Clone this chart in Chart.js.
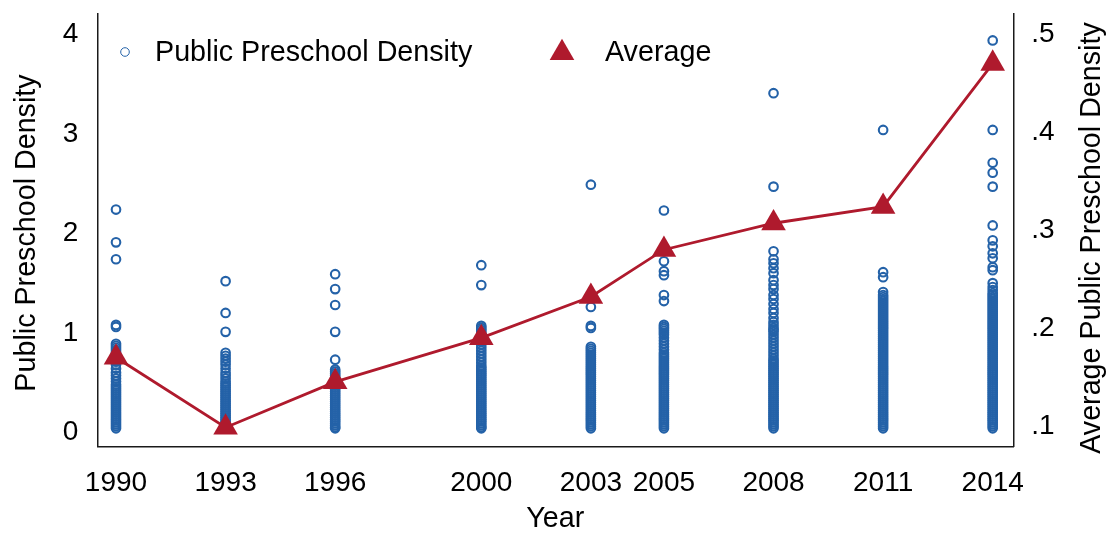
<!DOCTYPE html>
<html>
<head>
<meta charset="utf-8">
<title>Public Preschool Density</title>
<script src="https://cdn.jsdelivr.net/npm/chart.js@4.4.1/dist/chart.umd.min.js"></script>
<style>
  html, body { margin: 0; padding: 0; background: #ffffff; }
  canvas { display: block; }
</style>
</head>
<body>
<canvas id="chart" width="1107" height="534"></canvas>
<script>
// Survey years shown on the x axis
const years = [1990, 1993, 1996, 2000, 2003, 2005, 2008, 2011, 2014];

// Public preschool density of each unit, by year
const density1990 = [2.24, 1.91, 1.74, 1.08, 1.06, 0.89, 0.87, 0.85, 0.83, 0.81, 0.79, 0.77, 0.74, 0.71, 0.68, 0.64, 0.60, 0.57, 0.54, 0.51, 0.48, 0.46, 0.44, 0.42, 0.40, 0.38, 0.36, 0.34, 0.32, 0.30, 0.28, 0.26, 0.24, 0.22, 0.20, 0.18, 0.16, 0.14, 0.12, 0.10, 0.08, 0.06, 0.04];
const density1993 = [1.52, 1.20, 1.01, 0.80, 0.77, 0.74, 0.71, 0.68, 0.64, 0.60, 0.57, 0.54, 0.51, 0.49, 0.47, 0.45, 0.43, 0.41, 0.39, 0.37, 0.35, 0.33, 0.31, 0.29, 0.27, 0.25, 0.23, 0.21, 0.19, 0.17, 0.15, 0.13, 0.11, 0.09, 0.07, 0.05, 0.04];
const density1996 = [1.59, 1.44, 1.28, 1.01, 0.73, 0.63, 0.61, 0.59, 0.57, 0.55, 0.53, 0.51, 0.49, 0.47, 0.45, 0.43, 0.41, 0.39, 0.37, 0.35, 0.33, 0.31, 0.29, 0.27, 0.25, 0.23, 0.21, 0.19, 0.17, 0.15, 0.13, 0.11, 0.09, 0.07, 0.05, 0.04];
const density2000 = [1.68, 1.48, 1.07, 1.05, 1.03, 1.01, 0.99, 0.97, 0.94, 0.91, 0.88, 0.85, 0.82, 0.79, 0.76, 0.73, 0.70, 0.67, 0.65, 0.63, 0.61, 0.59, 0.57, 0.55, 0.53, 0.51, 0.49, 0.47, 0.45, 0.43, 0.41, 0.39, 0.37, 0.35, 0.33, 0.31, 0.29, 0.27, 0.25, 0.23, 0.21, 0.19, 0.17, 0.15, 0.13, 0.11, 0.09, 0.07, 0.05, 0.04];
const density2003 = [2.49, 1.26, 1.07, 1.05, 0.86, 0.84, 0.82, 0.80, 0.78, 0.76, 0.74, 0.72, 0.70, 0.68, 0.66, 0.64, 0.62, 0.60, 0.58, 0.56, 0.54, 0.52, 0.50, 0.48, 0.46, 0.44, 0.42, 0.40, 0.38, 0.36, 0.34, 0.32, 0.30, 0.28, 0.26, 0.24, 0.22, 0.20, 0.18, 0.16, 0.14, 0.12, 0.10, 0.08, 0.06, 0.04];
const density2005 = [2.23, 1.72, 1.62, 1.58, 1.38, 1.32, 1.08, 1.06, 1.04, 1.02, 1.00, 0.98, 0.95, 0.92, 0.89, 0.86, 0.83, 0.80, 0.78, 0.76, 0.74, 0.72, 0.70, 0.68, 0.66, 0.64, 0.62, 0.60, 0.58, 0.56, 0.54, 0.52, 0.50, 0.48, 0.46, 0.44, 0.42, 0.40, 0.38, 0.36, 0.34, 0.32, 0.30, 0.28, 0.26, 0.24, 0.22, 0.20, 0.18, 0.16, 0.14, 0.12, 0.10, 0.08, 0.06, 0.04];
const density2008 = [3.41, 2.47, 1.82, 1.74, 1.70, 1.65, 1.60, 1.53, 1.48, 1.44, 1.38, 1.34, 1.29, 1.24, 1.20, 1.15, 1.11, 1.08, 1.05, 1.03, 1.01, 0.98, 0.95, 0.92, 0.89, 0.86, 0.83, 0.80, 0.77, 0.74, 0.72, 0.70, 0.68, 0.66, 0.64, 0.62, 0.60, 0.58, 0.56, 0.54, 0.52, 0.50, 0.48, 0.46, 0.44, 0.42, 0.40, 0.38, 0.36, 0.34, 0.32, 0.30, 0.28, 0.26, 0.24, 0.22, 0.20, 0.18, 0.16, 0.14, 0.12, 0.10, 0.08, 0.06, 0.04];
const density2011 = [3.04, 1.61, 1.56, 1.41, 1.38, 1.36, 1.34, 1.32, 1.30, 1.28, 1.26, 1.24, 1.22, 1.20, 1.18, 1.16, 1.14, 1.12, 1.10, 1.08, 1.06, 1.04, 1.02, 1.00, 0.98, 0.96, 0.94, 0.92, 0.90, 0.88, 0.86, 0.84, 0.82, 0.80, 0.78, 0.76, 0.74, 0.72, 0.70, 0.68, 0.66, 0.64, 0.62, 0.60, 0.58, 0.56, 0.54, 0.52, 0.50, 0.48, 0.46, 0.44, 0.42, 0.40, 0.38, 0.36, 0.34, 0.32, 0.30, 0.28, 0.26, 0.24, 0.22, 0.20, 0.18, 0.16, 0.14, 0.12, 0.10, 0.08, 0.06, 0.04];
const density2014 = [3.94, 3.04, 2.71, 2.61, 2.47, 2.08, 1.93, 1.87, 1.80, 1.75, 1.66, 1.63, 1.50, 1.46, 1.43, 1.40, 1.38, 1.36, 1.34, 1.32, 1.30, 1.28, 1.26, 1.24, 1.22, 1.20, 1.18, 1.16, 1.14, 1.12, 1.10, 1.08, 1.06, 1.04, 1.02, 1.00, 0.98, 0.96, 0.94, 0.92, 0.90, 0.88, 0.86, 0.84, 0.82, 0.80, 0.78, 0.76, 0.74, 0.72, 0.70, 0.68, 0.66, 0.64, 0.62, 0.60, 0.58, 0.56, 0.54, 0.52, 0.50, 0.48, 0.46, 0.44, 0.42, 0.40, 0.38, 0.36, 0.34, 0.32, 0.30, 0.28, 0.26, 0.24, 0.22, 0.20, 0.18, 0.16, 0.14, 0.12, 0.10, 0.08, 0.06, 0.04];

const densityByYear = [density1990, density1993, density1996, density2000, density2003, density2005, density2008, density2011, density2014];

// Yearly average public preschool density (right axis)
const averageDensity = [0.170, 0.0985, 0.145, 0.190, 0.232, 0.280, 0.307, 0.324, 0.470];

// Tick values and labels
const yearTicks = [1990, 1993, 1996, 2000, 2003, 2005, 2008, 2011, 2014];
const leftTickValues = [0, 1, 2, 3, 4];
const rightTickValues = [0.1, 0.2, 0.3, 0.4, 0.5];
const rightTickLabels = ['.1', '.2', '.3', '.4', '.5'];

// Text
const xTitle = 'Year';
const leftTitle = 'Public Preschool Density';
const rightTitle = 'Average Public Preschool Density';
const scatterLabel = 'Public Preschool Density';
const lineLabel = 'Average';

// Styling
const FONT = '"Liberation Sans", Arial, Helvetica, sans-serif';
const TICK_SIZE = 28;
const TEXT_SIZE = 28.7;
const BLUE = '#2462A8';
const RED = '#AF1A2D';
const AXIS_COLOR = '#1a1a1a';
const TRIANGLE_RADIUS = 14.2;

const scatterPoints = years.flatMap((yr, i) => densityByYear[i].map(v => ({ x: yr, y: v })));
const averagePoints = years.map((yr, i) => ({ x: yr, y: averageDensity[i] }));

// Axis titles and the in-plot legend
const titlesAndLegend = {
  id: 'titlesAndLegend',
  afterDraw(chart) {
    const { ctx, chartArea } = chart;
    ctx.save();
    ctx.fillStyle = '#000';
    ctx.font = `${TEXT_SIZE}px ${FONT}`;
    ctx.textBaseline = 'middle';
    ctx.textAlign = 'center';

    ctx.fillText(xTitle, (chartArea.left + chartArea.right) / 2, 519);

    ctx.save();
    ctx.translate(27, 233);
    ctx.rotate(-Math.PI / 2);
    ctx.fillText(leftTitle, 0, 0);
    ctx.restore();

    ctx.save();
    ctx.translate(1092, 238);
    ctx.rotate(-Math.PI / 2);
    ctx.fillText(rightTitle, 0, 0);
    ctx.restore();

    // legend
    ctx.textAlign = 'left';
    ctx.strokeStyle = BLUE;
    ctx.fillStyle = 'rgba(0,0,0,0)';
    Chart.helpers.drawPoint(ctx, { pointStyle: 'circle', radius: 4.3, borderWidth: 1.6, rotation: 0 }, 125, 52);
    ctx.fillStyle = RED;
    ctx.strokeStyle = RED;
    Chart.helpers.drawPoint(ctx, { pointStyle: 'triangle', radius: TRIANGLE_RADIUS, borderWidth: 0, rotation: 0 }, 562, 53);
    ctx.fillStyle = '#000';
    ctx.fillText(scatterLabel, 155, 53);
    ctx.fillText(lineLabel, 605, 53);
    ctx.restore();
  }
};

const tickFont = { family: FONT, size: TICK_SIZE };

// keep the plot area exactly where the frame is, without label overhang padding
const noOverhangY = w => s => { s.width = w; s.paddingTop = 0; s.paddingBottom = 0; };

new Chart(document.getElementById('chart'), {
  data: {
    datasets: [
      {
        type: 'line',
        label: lineLabel,
        data: averagePoints,
        yAxisID: 'y2',
        order: 0,
        borderColor: RED,
        borderWidth: 2.8,
        tension: 0,
        pointStyle: 'triangle',
        pointRadius: TRIANGLE_RADIUS,
        pointHoverRadius: TRIANGLE_RADIUS,
        pointBackgroundColor: RED,
        pointBorderColor: RED,
        pointBorderWidth: 0
      },
      {
        type: 'scatter',
        label: scatterLabel,
        data: scatterPoints,
        yAxisID: 'y',
        order: 1,
        pointStyle: 'circle',
        pointRadius: 4.3,
        pointHoverRadius: 4.3,
        borderWidth: 2.1,
        borderColor: BLUE,
        backgroundColor: 'rgba(0,0,0,0)'
      }
    ]
  },
  options: {
    responsive: false,
    animation: false,
    devicePixelRatio: 1,
    events: [],
    layout: { padding: { top: 14, left: 0, right: 0, bottom: 0 } },
    plugins: {
      legend: { display: false },
      tooltip: { enabled: false },
      title: { display: false }
    },
    scales: {
      x: {
        type: 'linear',
        position: 'bottom',
        min: 1989.488,
        max: 2014.564,
        afterBuildTicks: s => { s.ticks = yearTicks.map(v => ({ value: v })); },
        afterFit: s => { s.height = 87.5; s.paddingLeft = 0; s.paddingRight = 0; },
        grid: { display: false, drawTicks: false },
        border: { display: true, color: AXIS_COLOR, width: 1.5 },
        ticks: {
          autoSkip: false, maxRotation: 0, minRotation: 0, padding: 20,
          color: '#000', font: tickFont,
          callback: v => String(v)
        }
      },
      y: {
        type: 'linear',
        position: 'left',
        min: -0.1427,
        max: 4.204,
        afterBuildTicks: s => { s.ticks = leftTickValues.map(v => ({ value: v })); },
        afterFit: noOverhangY(97.3),
        grid: { display: false, drawTicks: false },
        border: { display: true, color: AXIS_COLOR, width: 1.5 },
        ticks: { padding: 19, color: '#000', font: tickFont, callback: v => String(v) }
      },
      y2: {
        type: 'linear',
        position: 'right',
        min: 0.0791,
        max: 0.5204,
        afterBuildTicks: s => { s.ticks = rightTickValues.map(v => ({ value: v })); },
        afterFit: noOverhangY(93.7),
        grid: { display: false, drawTicks: false },
        border: { display: true, color: AXIS_COLOR, width: 1.5 },
        ticks: { padding: 18, color: '#000', font: tickFont, callback: (v, i) => rightTickLabels[i] }
      }
    }
  },
  plugins: [titlesAndLegend]
});
</script>
</body>
</html>
